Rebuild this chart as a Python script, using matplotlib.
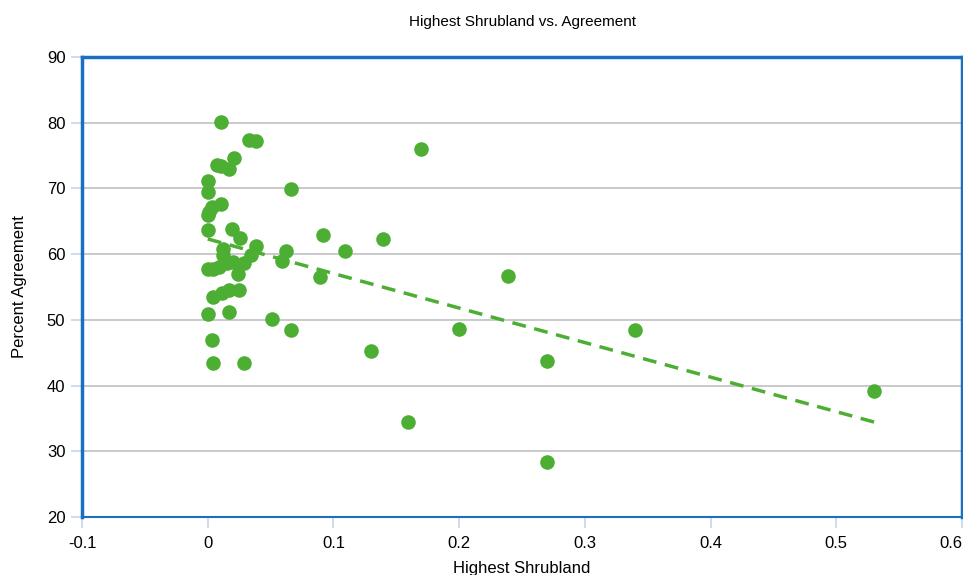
import numpy as np
import matplotlib
matplotlib.use("Agg")
import matplotlib.pyplot as plt

plt.rcParams['font.family'] = ['Liberation Sans', 'DejaVu Sans']

# highest shrubland fraction vs percent agreement
shrub = [0.0106, 0.033, 0.038, 0.021, 0.0075, 0.0106, 0.017, 0.0, 0.0, 0.066,
         0.0106, 0.003, 0.001, 0.0, 0.0, 0.019, 0.026, 0.038, 0.062, 0.059,
         0.012, 0.012, 0.0, 0.004, 0.009, 0.015, 0.020, 0.029, 0.034, 0.024,
         0.0045, 0.011, 0.017, 0.025, 0.0, 0.017, 0.051, 0.066, 0.003, 0.004,
         0.029, 0.170, 0.092, 0.109, 0.139, 0.089, 0.200, 0.130, 0.239, 0.159,
         0.270, 0.270, 0.340, 0.530]
agree = [80.1, 77.3, 77.2, 74.6, 73.5, 73.4, 73.0, 71.1, 69.5, 69.9,
         67.7, 67.2, 66.4, 65.9, 63.6, 63.8, 62.5, 61.2, 60.5, 59.0,
         60.8, 59.8, 57.7, 57.7, 58.1, 58.7, 58.8, 58.7, 59.8, 56.9,
         53.4, 54.1, 54.5, 54.5, 50.9, 51.2, 50.1, 48.4, 47.0, 43.4,
         43.4, 76.0, 62.9, 60.4, 62.3, 56.5, 48.6, 45.3, 56.6, 34.5,
         43.8, 28.3, 48.5, 39.2]

x_ticks = [-0.1, 0, 0.1, 0.2, 0.3, 0.4, 0.5, 0.6]
x_tick_labels = ['-0.1', '0', '0.1', '0.2', '0.3', '0.4', '0.5', '0.6']
y_ticks = [20, 30, 40, 50, 60, 70, 80, 90]

green = '#4cae32'
blue = '#1a6fc0'

fig = plt.figure(figsize=(9.63, 5.75), dpi=100)
ax = fig.add_axes([0.0852, 0.1009, 0.9138, 0.80])

ax.scatter(shrub, agree, s=110, color=green, zorder=3, linewidths=0)

# linear trend line
x = np.array(shrub)
slope, intercept = np.polyfit(x, np.array(agree), 1)
xs = np.array([x.min(), x.max()])
ax.plot(xs, slope * xs + intercept, color=green, lw=2.5, ls=(0, (4, 2.5)), zorder=2)

ax.set_xlim(-0.1, 0.6)
ax.set_ylim(20, 90)
ax.set_xticks(x_ticks)
ax.set_xticklabels(x_tick_labels)
ax.set_yticks(y_ticks)
ax.yaxis.grid(True, color='#c0c0c0', lw=1.2)
ax.set_axisbelow(True)

for side in ['left', 'top', 'right']:
    ax.spines[side].set_color(blue)
    ax.spines[side].set_linewidth(2.5)
ax.spines['bottom'].set_color(blue)
ax.spines['bottom'].set_linewidth(1.5)

ax.tick_params(axis='both', length=8, width=1.2, color='#c5d6ea', labelsize=12, pad=4)
ax.tick_params(axis='x', pad=6)
# last label pulled inside the figure like the reference
ax.get_xticklabels()[-1].set_horizontalalignment('right')

ax.set_title('Highest Shrubland vs. Agreement', fontsize=11, pad=22)
ax.set_xlabel('Highest Shrubland', fontsize=12, labelpad=7)
ax.set_ylabel('Percent Agreement', fontsize=12, labelpad=14)

fig.savefig('out.png', dpi=100)
